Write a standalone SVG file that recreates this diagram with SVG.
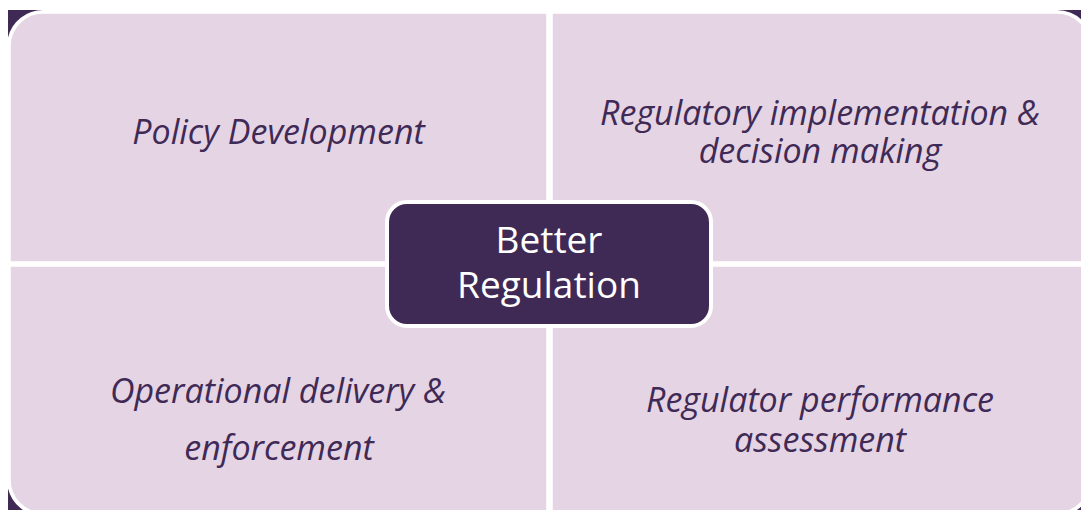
<svg xmlns="http://www.w3.org/2000/svg" width="1081" height="510" viewBox="0 0 1081 510">
<style>
  .dark { fill: #3F2A56; }
  .quad { fill: #E5D4E4; stroke: #FFFFFF; stroke-width: 1.5; }
  .qt { font-family: "Open Sans", "Noto Sans", "DejaVu Sans", sans-serif; font-style: italic; font-size: 34px; fill: #3F2A56; text-anchor: middle; }
  .ct { font-family: "Open Sans", "Noto Sans", "DejaVu Sans", sans-serif; font-size: 37px; fill: #FFFFFF; text-anchor: middle; }
</style>
<rect x="0" y="0" width="1081" height="510" fill="#FFFFFF"/>
<g id="corners">
  <path class="dark" d="M8,10 H43 A36,36 0 0 0 8,37.6 Z"/>
  <path class="dark" d="M1057,10 A36,36 0 0 1 1093,46 V10 Z"/>
  <path class="dark" d="M8,488.4 A36,36 0 0 0 43,516 H8 Z"/>
  <path class="dark" d="M1093,480 A36,36 0 0 1 1057,516 H1093 Z"/>
</g>
<g id="policy-development">
  <path class="quad" d="M10,262 V46 A33,33 0 0 1 43,13 H547 V262 Z"/>
  <text class="qt" x="278.5" y="144">Policy Development</text>
</g>
<g id="regulatory-implementation">
  <path class="quad" d="M552,13 H1057 A33,33 0 0 1 1090,46 V262 H552 Z"/>
  <text class="qt" x="820" y="125">Regulatory implementation &amp;</text>
  <text class="qt" x="820" y="163">decision making</text>
</g>
<g id="operational-delivery">
  <path class="quad" d="M10,266 H547 V513 H43 A33,33 0 0 1 10,480 Z"/>
  <text class="qt" x="278" y="403">Operational delivery &amp;</text>
  <text class="qt" x="279" y="460">enforcement</text>
</g>
<g id="regulator-performance">
  <path class="quad" d="M552,266 H1090 V480 A33,33 0 0 1 1057,513 H552 Z"/>
  <text class="qt" x="820" y="412">Regulator performance</text>
  <text class="qt" x="820" y="452">assessment</text>
</g>
<g id="better-regulation">
  <rect x="387" y="202" width="324" height="124" rx="20" ry="20" fill="#3F2A56" stroke="#FFFFFF" stroke-width="4"/>
  <text class="ct" x="549" y="253">Better</text>
  <text class="ct" x="549" y="298">Regulation</text>
</g>
</svg>
